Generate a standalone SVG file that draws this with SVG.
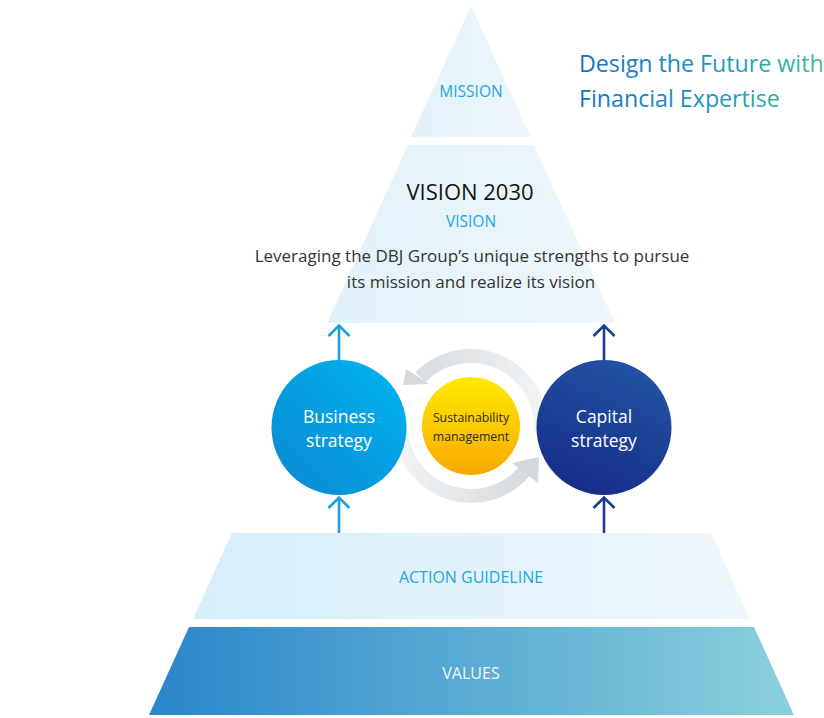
<svg xmlns="http://www.w3.org/2000/svg" width="824" height="718" viewBox="0 0 824 718">
<defs>
<style>
text{font-family:"Open Sans","Liberation Sans",sans-serif;text-anchor:middle}
.lbl{fill:#22a6e4;font-size:15.5px}
.para{fill:#333;font-size:17px}
.circ{fill:#fff;font-size:17.5px}
.arr{fill:none;stroke-width:2.6;stroke-linecap:butt;stroke-linejoin:miter}
.blue{stroke:#1a9fe0}
.navy{stroke:#1d3c91}
</style>
<linearGradient id="gTop" x1="0" y1="0" x2="1" y2="0">
<stop offset="0" stop-color="#e2f2fa"/><stop offset="1" stop-color="#eef7fb"/>
</linearGradient>
<linearGradient id="gAct" x1="0" y1="0" x2="1" y2="0">
<stop offset="0" stop-color="#d6eefa"/><stop offset="1" stop-color="#eff7fc"/>
</linearGradient>
<linearGradient id="gVal" x1="0" y1="0" x2="1" y2="0">
<stop offset="0" stop-color="#2a86cb"/><stop offset="1" stop-color="#8bd0dc"/>
</linearGradient>
<linearGradient id="gTitle" gradientUnits="userSpaceOnUse" x1="579" y1="0" x2="822" y2="0">
<stop offset="0" stop-color="#1670c7"/><stop offset="0.6" stop-color="#1f9bbd"/><stop offset="1" stop-color="#43bd97"/>
</linearGradient>
<linearGradient id="gBus" x1="1" y1="0" x2="0" y2="1">
<stop offset="0" stop-color="#00b5ef"/><stop offset="1" stop-color="#0b87d1"/>
</linearGradient>
<linearGradient id="gCap" x1="0.7" y1="0" x2="0.3" y2="1">
<stop offset="0" stop-color="#2254a4"/><stop offset="1" stop-color="#162c86"/>
</linearGradient>
<linearGradient id="gSus" x1="0.5" y1="0" x2="0.5" y2="1">
<stop offset="0" stop-color="#ffea00"/><stop offset="1" stop-color="#f6a900"/>
</linearGradient>
<linearGradient id="gRingTop" gradientUnits="userSpaceOnUse" x1="540" y1="0" x2="405" y2="0">
<stop offset="0" stop-color="#f1f3f5"/><stop offset="1" stop-color="#d5dade"/>
</linearGradient>
<linearGradient id="gRingBot" gradientUnits="userSpaceOnUse" x1="402" y1="0" x2="538" y2="0">
<stop offset="0" stop-color="#f1f3f5"/><stop offset="1" stop-color="#d3d8dc"/>
</linearGradient>
</defs>
<rect width="824" height="718" fill="#fff"/>

<g id="mission">
<polygon points="471,6 531,137 411,137" fill="url(#gTop)"/>
<text class="lbl" x="471" y="97">MISSION</text>
</g>

<g id="vision">
<polygon points="408,145 534,145 615,323 327,323" fill="url(#gTop)"/>
<text x="470" y="200" fill="#141414" font-size="22" font-weight="500">VISION 2030</text>
<text class="lbl" x="471" y="227">VISION</text>
<text class="para" x="472" y="262">Leveraging the DBJ Group’s unique strengths to pursue</text>
<text class="para" x="471" y="288">its mission and realize its vision</text>
</g>

<g id="action-guideline">
<polygon points="232,533 711,533 750,619 193,619" fill="url(#gAct)"/>
<text x="471" y="583" fill="#22a6e4" font-size="16">ACTION GUIDELINE</text>
</g>

<g id="values">
<polygon points="189,627 754,627 794,715 149,715" fill="url(#gVal)"/>
<text x="471" y="679" fill="#eef6fb" font-size="16">VALUES</text>
</g>

<g id="title">
<text x="579" y="72" fill="url(#gTitle)" font-size="23.2" style="text-anchor:start">Design the Future with</text>
<text x="579" y="107" fill="url(#gTitle)" font-size="23.2" style="text-anchor:start">Financial Expertise</text>
</g>

<g id="connectors">
<path d="M540.7,432.1 A70,70 0 0 0 420.6,377.4" fill="none" stroke="url(#gRingTop)" stroke-width="14"/>
<polygon points="406,369 403,385 429,384" fill="#d5dade"/>
<path d="M401.3,432.1 A70,70 0 0 0 524.6,471" fill="none" stroke="url(#gRingBot)" stroke-width="14"/>
<polygon points="512,463 539,457 538,483" fill="#d3d8dc"/>
</g>

<g id="business-strategy">
<circle cx="339" cy="427.5" r="67.5" fill="url(#gBus)"/>
<text class="circ" x="339" y="423">Business</text>
<text class="circ" x="339" y="447">strategy</text>
</g>

<g id="capital-strategy">
<circle cx="604" cy="427.5" r="67.5" fill="url(#gCap)"/>
<text class="circ" x="604" y="423">Capital</text>
<text class="circ" x="604" y="447">strategy</text>
</g>

<g id="sustainability">
<circle cx="471" cy="426" r="49" fill="url(#gSus)"/>
<text x="471" y="422" fill="#2b2b2b" font-size="12.3">Sustainability</text>
<text x="471" y="441" fill="#2b2b2b" font-size="12.3">management</text>
</g>

<g id="arrows">
<path class="arr blue" d="M339,360 V325.5 M328.5,336 L339,325.5 L349.5,336"/>
<path class="arr blue" d="M339,533 V497.5 M328.5,508 L339,497.5 L349.5,508"/>
<path class="arr navy" d="M604,360 V325.5 M593.5,336 L604,325.5 L614.5,336"/>
<path class="arr navy" d="M604,533 V497.5 M593.5,508 L604,497.5 L614.5,508"/>
</g>
</svg>
